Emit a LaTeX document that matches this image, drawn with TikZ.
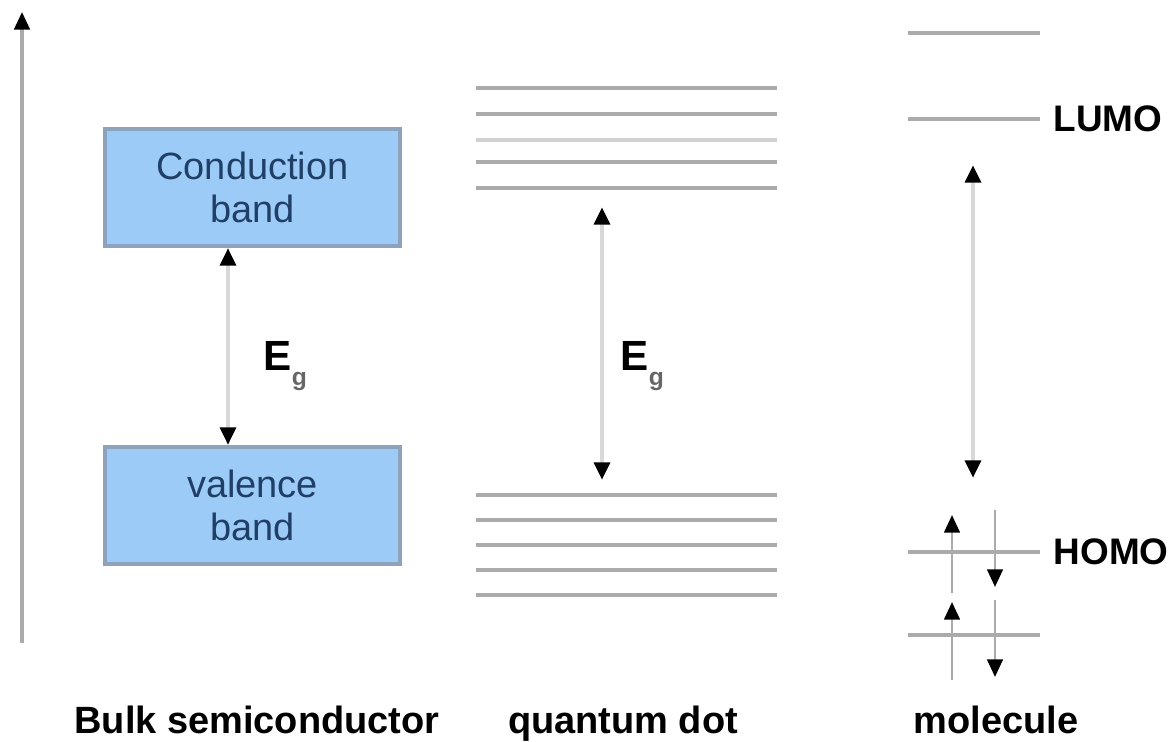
\documentclass[tikz,border=0pt]{standalone}
\usepackage{fontspec}
\setmainfont{Liberation Sans}
\usetikzlibrary{arrows.meta}
\definecolor{bandblue}{HTML}{9DCBF8}
\definecolor{bandedge}{HTML}{8DA3BC}
\definecolor{bandtext}{HTML}{1F3F66}
\definecolor{levelgrey}{HTML}{ABABAB}
\definecolor{gapgrey}{HTML}{D8D8D8}
\tikzset{
  >={Triangle[length=5pt, width=4.4pt, black]},
  bandbox/.style={rectangle, draw=bandedge, line width=1.1pt, fill=bandblue,
                  minimum width=2.95cm, minimum height=1.17cm, inner sep=0pt,
                  align=center, text=bandtext, font=\fontsize{10.8}{12}\selectfont},
  level/.style={draw=levelgrey, line width=0.9pt},
  levell/.style={draw=levelgrey!55, line width=0.9pt},
  gaparrow/.style={<->, draw=gapgrey, line width=1.3pt},
  axisline/.style={->, draw=levelgrey, line width=0.9pt},
  spin/.style={->, draw=levelgrey, line width=0.8pt},
  eglbl/.style={anchor=base west, inner sep=0pt, font=\fontsize{12}{14}\bfseries\selectfont},
  caption/.style={anchor=base, inner sep=0pt, font=\fontsize{10.8}{13}\bfseries\selectfont},
  orbital/.style={anchor=west, inner sep=0pt, font=\fontsize{10.5}{13}\bfseries\selectfont},
}
\newcommand{\gapsub}{\raisebox{-4.5pt}{\scriptsize\color{black!60}g}}

\begin{document}
\begin{tikzpicture}[x=0.01cm, y=-0.01cm]
  \useasboundingbox (0,0) rectangle (1172,742);

  \coordinate (axbot) at (22,643);
  \coordinate (axtop) at (22,12);
  \draw[axisline] (axbot) -- (axtop);

  \node[bandbox] (cb) at (252.5,187.5) {Conduction\\band};
  \node[bandbox] (vb) at (252.5,505.5) {valence\\band};
  \coordinate (eg1) at (228,0);
  \draw[gaparrow] (cb.south -| eg1) -- (vb.north -| eg1);
  \node[eglbl] (eg1lbl) at (263,370) {E\gapsub};

  \foreach \y in {88,114,162,188,495,520,545,570,595}
    \draw[level] (476,\y) -- (777,\y);
  \draw[levell] (476,140) -- (777,140);
  \coordinate (qdtop) at (602,207);
  \coordinate (qdbot) at (602,480);
  \draw[gaparrow] (qdtop) -- (qdbot);
  \node[eglbl] (eg2lbl) at (620,370) {E\gapsub};

  \draw[level] (908,33) -- (1040,33);
  \draw[level] (908,119) -- (1040,119);
  \draw[level] (908,552) -- (1040,552);
  \draw[level] (908,635) -- (1040,635);
  \node[orbital] (lumo) at (1053,119) {LUMO};
  \node[orbital] (homo) at (1053,552) {HOMO};
  \coordinate (moltop) at (973,165);
  \coordinate (molbot) at (973,478);
  \draw[gaparrow] (moltop) -- (molbot);

  \coordinate (upa) at (952,593);  \coordinate (upb) at (952,515);
  \coordinate (dna) at (995,510);  \coordinate (dnb) at (995,587);
  \coordinate (upc) at (952,680);  \coordinate (upd) at (952,602);
  \coordinate (dnc) at (995,600);  \coordinate (dnd) at (995,677);
  \draw[spin] (upa) -- (upb);
  \draw[spin] (dna) -- (dnb);
  \draw[spin] (upc) -- (upd);
  \draw[spin] (dnc) -- (dnd);

  \node[caption] (bulk) at (257,733) {Bulk semiconductor};
  \node[caption] (qdot) at (623,733) {quantum dot};
  \node[caption] (mol) at (996,733) {molecule};
\end{tikzpicture}
\end{document}
